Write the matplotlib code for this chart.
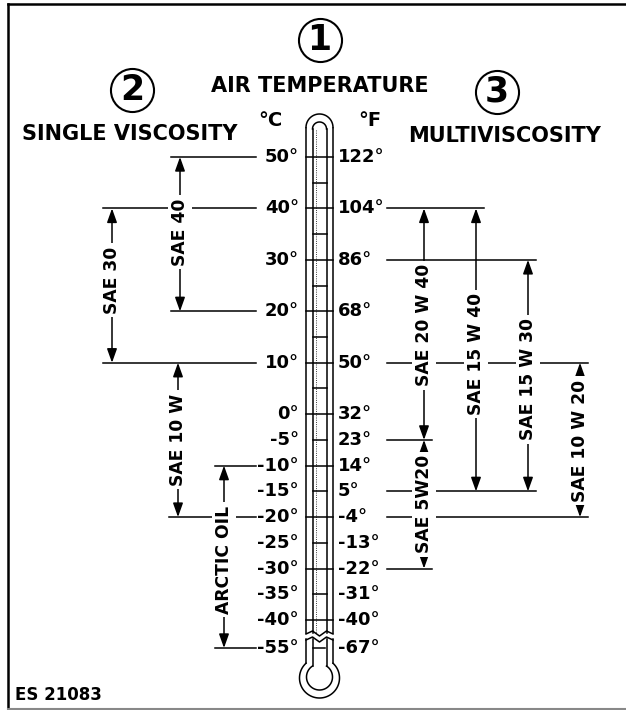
import numpy as np
import matplotlib.pyplot as plt

# Scale labels on the thermometer
celsius = [50, 40, 30, 20, 10, 0, -5, -10, -15, -20, -25, -30, -35, -40, -55]
fahrenheit = [122, 104, 86, 68, 50, 32, 23, 14, 5, -4, -13, -22, -31, -40, -67]

# Single viscosity oils: usable range in deg C
single_names = ["SAE 40", "SAE 30", "SAE 10 W", "ARCTIC OIL"]
single_low = [20, 10, -20, -55]
single_high = [50, 40, 10, -10]

# Multiviscosity oils: usable range in deg C
multi_names = ["SAE 20 W 40", "SAE 15 W 40", "SAE 15 W 30", "SAE 10 W 20", "SAE 5W20"]
multi_low = [-5, -15, -15, -20, -30]
multi_high = [40, 40, 30, 10, -5]

# layout (x in pixels, label centre in scale units)
single_x = [180, 112, 178, 224]
single_label_y = [35.4, 26.1, -5.0, -28.3]
multi_x = [424, 476, 528, 580, 424]
multi_label_y = [17.3, 11.7, 6.8, -5.2, -17.5]

K = 5.144  # pixels per degree C on the scale


def Y(p):
    # pixel row -> scale position
    return 50 - (p - 157) / K


def pos(c):
    # the scale is broken below -40
    return c if c >= -40 else -45.45


plt.rcParams['font.family'] = 'DejaVu Sans'
plt.rcParams['font.weight'] = 'bold'

fig = plt.figure(figsize=(6.26, 7.10), dpi=100)
ax = fig.add_axes([0, 0, 1, 1])
ax.set_xlim(0, 626)
ax.set_ylim(Y(710), Y(0))
ax.axis('off')

lw = 1.1

# frame
ax.plot([8, 8], [Y(4), Y(709)], color='black', lw=1.8)
ax.plot([8, 626], [Y(4), Y(4)], color='black', lw=1.8)
ax.plot([8, 626], [Y(709), Y(709)], color='#888888', lw=1.5)

# header
for num, x, yp in [("1", 319.5, 40), ("2", 132, 90), ("3", 497, 92)]:
    ax.plot(x, Y(yp), 'o', ms=31, mfc='none', mec='black', mew=1.5)
    ax.text(x, Y(yp), num, fontsize=25, fontweight='heavy', ha='center', va='center')
ax.text(320, Y(86), "AIR TEMPERATURE", fontsize=15, fontweight='bold', ha='center', va='center')
ax.text(22, Y(134.5), "SINGLE VISCOSITY", fontsize=15, fontweight='bold', ha='left', va='center')
ax.text(505, Y(135.5), "MULTIVISCOSITY", fontsize=15, fontweight='bold', ha='center', va='center')
ax.text(270, Y(120), "°C", fontsize=14, fontweight='bold', ha='center', va='center')
ax.text(370, Y(120), "°F", fontsize=14, fontweight='bold', ha='center', va='center')
ax.text(15, Y(695), "ES 21083", fontsize=12, fontweight='bold', ha='left', va='center')

# thermometer
cx = 319.5
ho, hi = 13.5, 7.0
t = np.linspace(np.pi, 2 * np.pi, 60)
# upper tube
ax.plot(cx + ho * np.cos(t), Y(127.5 + ho * np.sin(t)), color='black', lw=lw)
ax.plot(cx + hi * np.cos(t), Y(129 + hi * np.sin(t)), color='black', lw=lw)
for dx, top in [(-ho, 127.5), (ho, 127.5), (-hi, 129), (hi, 129)]:
    ax.plot([cx + dx, cx + dx], [Y(top), Y(633)], color='black', lw=lw)
ax.plot([cx - 4, cx - 4], [Y(130), Y(633)], color='black', lw=0.6, ls=':')
# break
zx = cx + np.array([-ho, -hi, 0, hi, ho])
zy = np.array([634, 631, 636, 631, 634])
ax.plot(zx, Y(zy), color='black', lw=lw)
ax.plot(zx, Y(zy + 6), color='black', lw=lw)
# lower tube and bulb
ro, rc_o = 20, 678
ri, rc_i = 13, 677
yo = rc_o - np.sqrt(ro ** 2 - ho ** 2)
yi = rc_i - np.sqrt(ri ** 2 - hi ** 2)
for dx, y_end in [(-ho, yo), (ho, yo), (-hi, yi), (hi, yi)]:
    ax.plot([cx + dx, cx + dx], [Y(639), Y(y_end)], color='black', lw=lw)
for r, rc, h in [(ro, rc_o, ho), (ri, rc_i, hi)]:
    a = np.arcsin(h / r)
    tb = np.linspace(-np.pi / 2 + a, 3 * np.pi / 2 - a, 120)
    ax.plot(cx + r * np.cos(tb), Y(rc + r * np.sin(tb)), color='black', lw=lw)

# thermometer ticks: every 10 across the tube, every 5 inside only
for c in range(50, -45, -5):
    half = ho if c % 10 == 0 else hi
    ax.plot([cx - half, cx + half], [pos(c), pos(c)], color='black', lw=lw)
ax.plot([cx - hi, cx + 5], [pos(-55), pos(-55)], color='black', lw=lw)

# scale labels
for c, f in zip(celsius, fahrenheit):
    ax.text(299, pos(c), f"{c}°", fontsize=13, fontweight='bold', ha='right', va='center')
    ax.text(338, pos(c), f"{f}°", fontsize=13, fontweight='bold', ha='left', va='center')

arrow = dict(arrowstyle='-|>,head_length=0.7,head_width=0.25', color='black',
             lw=lw, shrinkA=0, shrinkB=0, mutation_scale=12)
label_box = dict(boxstyle='square,pad=0.2', fc='white', ec='none')


def draw_range(name, low, high, x, ly):
    ax.annotate('', xy=(x, pos(high)), xytext=(x, ly), arrowprops=arrow, zorder=2)
    ax.annotate('', xy=(x, pos(low)), xytext=(x, ly), arrowprops=arrow, zorder=2)
    ax.text(x, ly, name, rotation=90, fontsize=12.3, fontweight='bold',
            ha='center', va='center', bbox=label_box, zorder=4)


# single viscosity boundaries
for level in sorted(set(single_low + single_high)):
    xs = [x for x, lo, hi_ in zip(single_x, single_low, single_high) if level in (lo, hi_)]
    ax.plot([min(xs) - 9, 256], [pos(level), pos(level)], color='black', lw=lw, zorder=1)
for args in zip(single_names, single_low, single_high, single_x, single_label_y):
    draw_range(*args)

# multiviscosity boundaries
for level in sorted(set(multi_low + multi_high)):
    xs = [x for x, lo, hi_ in zip(multi_x, multi_low, multi_high) if level in (lo, hi_)]
    ax.plot([387, max(xs) + 8], [pos(level), pos(level)], color='black', lw=lw, zorder=1)
for args in zip(multi_names, multi_low, multi_high, multi_x, multi_label_y):
    draw_range(*args)

fig.savefig("out.png", dpi=100, facecolor='white')
